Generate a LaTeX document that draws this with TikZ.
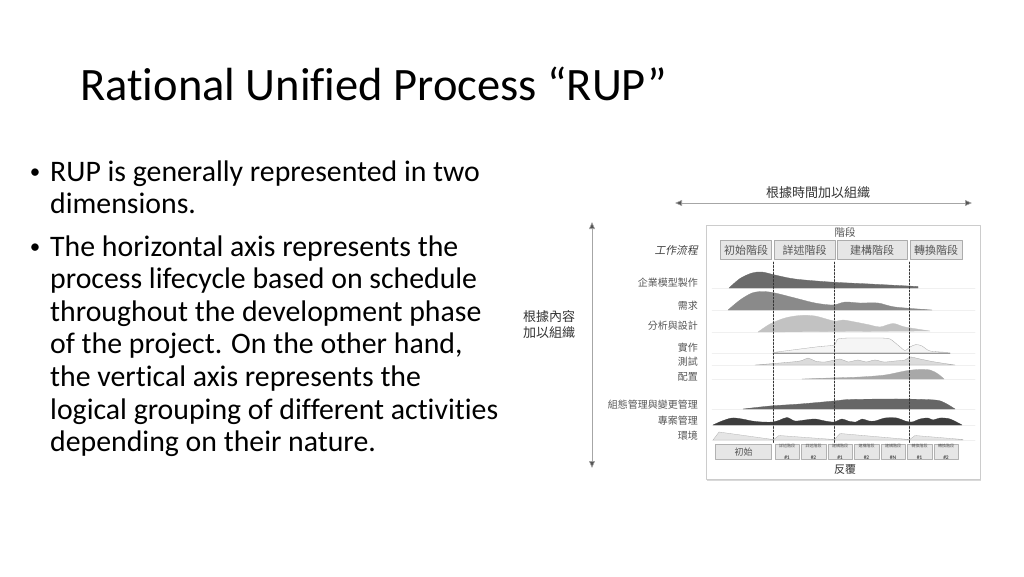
\documentclass[tikz,border=0pt]{standalone}
\usepackage{fontspec}
\setmainfont{Carlito}[Ligatures=NoCommon]
\newfontfamily\cjk{Noto Sans CJK TC}
\newfontfamily\cjkit[FakeSlant=0.2]{Noto Sans CJK TC}
\usetikzlibrary{arrows.meta,shadows}
\definecolor{inkgray}{HTML}{555555}
\definecolor{boxfill}{HTML}{E6E6E6}
\begin{document}
\begin{tikzpicture}[line join=round, line cap=round, x=1pt, y=-1pt,
  font=\cjk\fontsize{10}{12}\selectfont,
  bodytext/.style={anchor=base west, align=left, inner sep=0, font=\rmfamily\fontsize{29.8}{32.6}\selectfont},
  bulletdot/.style={anchor=base, inner sep=0, font=\rmfamily\fontsize{21}{21}\selectfont},
  axisline/.style={draw=gray!70, line width=0.6pt, {Triangle[length=7pt,width=6pt,fill=inkgray]}-{Triangle[length=7pt,width=6pt,fill=inkgray]}},
  phasebox/.style={draw=gray!65, fill=boxfill, inner sep=0, minimum height=19pt, font=\cjk\fontsize{11}{11}\selectfont, text=inkgray,
    drop shadow={shadow xshift=0.8pt, shadow yshift=-0.8pt, opacity=0.25}},
  iterbox/.style={draw=gray!60, fill=boxfill, inner sep=0, minimum width=24.5pt, minimum height=15pt, align=center, text=inkgray},
  wflabel/.style={anchor=east, inner sep=0, text=inkgray},
  phaseline/.style={draw=black!80, line width=0.6pt, dash pattern=on 2pt off 1.5pt},
  hump/.style={fill=black!#1, draw=black!#1, line width=0.3pt}]
\useasboundingbox (0,0) rectangle (1024,576);
% title and bullets
\node[anchor=base west, inner sep=0, font=\rmfamily\fontsize{46.5}{46.5}\selectfont] (title) at (80,100) {Rational Unified Process “RUP”};
\node[bulletdot] (dot1) at (35,178) {•};
\node[bodytext] (pt1) at (50,213.6) {RUP is generally represented in two\\dimensions.};
\node[bulletdot] (dot2) at (35,253) {•};
\node[bodytext] (pt2) at (50,451.6) {The horizontal axis represents the\\process lifecycle based on schedule\\throughout the development phase\\of the project. On the other hand,\\the vertical axis represents the\\logical grouping of different activities\\depending on their nature.};
% axes
\coordinate (tl) at (675,203);
\coordinate (tr) at (972,203);
\draw[axisline] (tl) -- (tr);
\node[font=\cjk\fontsize{13}{13}\selectfont, text=black!80] (timelbl) at (818,193) {根據時間加以組織};
\coordinate (vt) at (592,222);
\coordinate (vb) at (592,468);
\draw[axisline] (vt) -- (vb);
\node[align=left, inner sep=0, font=\cjk\fontsize{13}{16}\selectfont, text=black!80] (contlbl) at (549,325) {根據內容\\加以組織};
% panel
\path[draw=gray!40, fill=white, drop shadow={shadow xshift=1pt, shadow yshift=-2pt, opacity=0.3}] (706,225) rectangle (980,479);
\node[text=inkgray, font=\cjk\fontsize{10.5}{11}\selectfont] (phasehd) at (845,232) {階段};
\node[phasebox, minimum width=51pt] (ph1) at (746,250) {初始階段};
\node[phasebox, minimum width=61pt] (ph2) at (804.5,250) {詳述階段};
\node[phasebox, minimum width=70pt] (ph3) at (872,250) {建構階段};
\node[phasebox, minimum width=52pt] (ph4) at (936,250) {轉換階段};
\node[wflabel, text=black!75, font=\cjkit\fontsize{10.8}{11}\selectfont] (flowhd) at (698,250) {工作流程};
% guide lines
\foreach \y in {288,310,332,353,365,379,409,425,440}
  \draw[gray!12, line width=0.5pt] (712,\y) -- (975,\y);
% workflows
\filldraw[hump=58] plot[smooth] coordinates{(729,288) (740,278.5) (752,273) (762,272) (775,275) (795,279) (830,282) (870,284) (918,286.5)} -- (918,288) -- cycle;
\filldraw[hump=46] plot[smooth] coordinates{(728,310) (740,300) (752,293) (763,291.5) (775,293) (795,298) (815,303) (833,305) (845,302) (860,303) (878,303) (895,307) (932,310)} -- cycle;
\filldraw[hump=24] plot[smooth] coordinates{(758,332) (770,324) (785,318) (800,315.5) (815,316) (834,321) (843,320) (855,322) (870,325) (880,327) (893,323.5) (905,327) (930,331)} -- cycle;
\filldraw[hump=4, draw=gray!70] plot[smooth, tension=0.4] coordinates{(773,352.5) (800,349) (820,346.5) (834,345) (838,339) (850,338) (880,338) (890,339) (899,346) (905,350.5) (910,347) (916,344.5) (922,346) (930,351) (950,352.5)} -- cycle;
\draw[gray!80, line width=0.6pt] (773,353) -- (950,353);
\filldraw[hump=14, draw=gray!70] plot[smooth] coordinates{(755,365) (780,363) (800,361) (808,358) (815,361) (825,362) (840,359) (848,362) (858,360) (866,362) (875,360) (884,362) (895,361) (905,360) (910,357) (920,359) (935,362) (955,365)} -- cycle;
\filldraw[hump=34] plot[smooth] coordinates{(802,379) (830,378) (860,377) (885,375) (905,371) (918,369.5) (930,370) (938,374) (944,379)} -- cycle;
\filldraw[hump=60] plot[smooth] coordinates{(743,409) (770,406) (800,404) (834,401) (850,399.5) (900,399) (935,400) (945,403) (955,409)} -- cycle;
\filldraw[hump=76] plot[smooth] coordinates{(713,425) (722,421) (732,418) (742,419) (752,421) (762,422) (773,422) (780,420) (787,417.5) (795,421) (805,420) (815,419) (825,421) (834,422) (842,419) (848,421) (856,422) (862,419) (869,421) (875,421) (885,418) (897,418) (905,421) (912,422) (920,419) (928,418) (933,420) (940,418) (950,419) (962,425)} -- cycle;
\foreach \a/\b/\p in {713/773/432,773/834/435.5,834/909/433.5,909/963/435.5}
  \filldraw[hump=10, draw=gray!60] (\a,440) -- (\a+6,\p) -- (\b,439.5) -- (\b,440) -- cycle;
% phase borders
\foreach \x in {773,834,909}
  \draw[phaseline] (\x,262) -- (\x,444);
% workflow names
\node[wflabel] (wf1) at (698,283) {企業模型製作};
\node[wflabel] (wf2) at (698,306) {需求};
\node[wflabel] (wf3) at (698,326) {分析與設計};
\node[wflabel] (wf4) at (698,348) {實作};
\node[wflabel] (wf5) at (698,362) {測試};
\node[wflabel] (wf6) at (698,377) {配置};
\node[wflabel] (wf7) at (698,405) {組態管理與變更管理};
\node[wflabel] (wf8) at (698,421) {專案管理};
\node[wflabel] (wf9) at (698,436) {環境};
% iterations
\node[iterbox, minimum width=56pt, font=\cjk\fontsize{9}{9}\selectfont] (it0) at (743.5,452) {初始};
\foreach \nm/\nr [count=\i] in {詳述階段/1,詳述階段/2,建構階段/1,建構階段/2,建構階段/N,轉換階段/1,轉換階段/2}
  \node[iterbox] (it\i) at ({787+(\i-1)*26.5},452) {{\cjk\fontsize{4}{5}\selectfont\nm}\\[-0.5pt]{\rmfamily\bfseries\fontsize{5.5}{6}\selectfont\#\nr}};
\node[text=black!80, font=\cjk\fontsize{11}{12}\selectfont] (iterlbl) at (845,470) {反覆};
\end{tikzpicture}
\end{document}
